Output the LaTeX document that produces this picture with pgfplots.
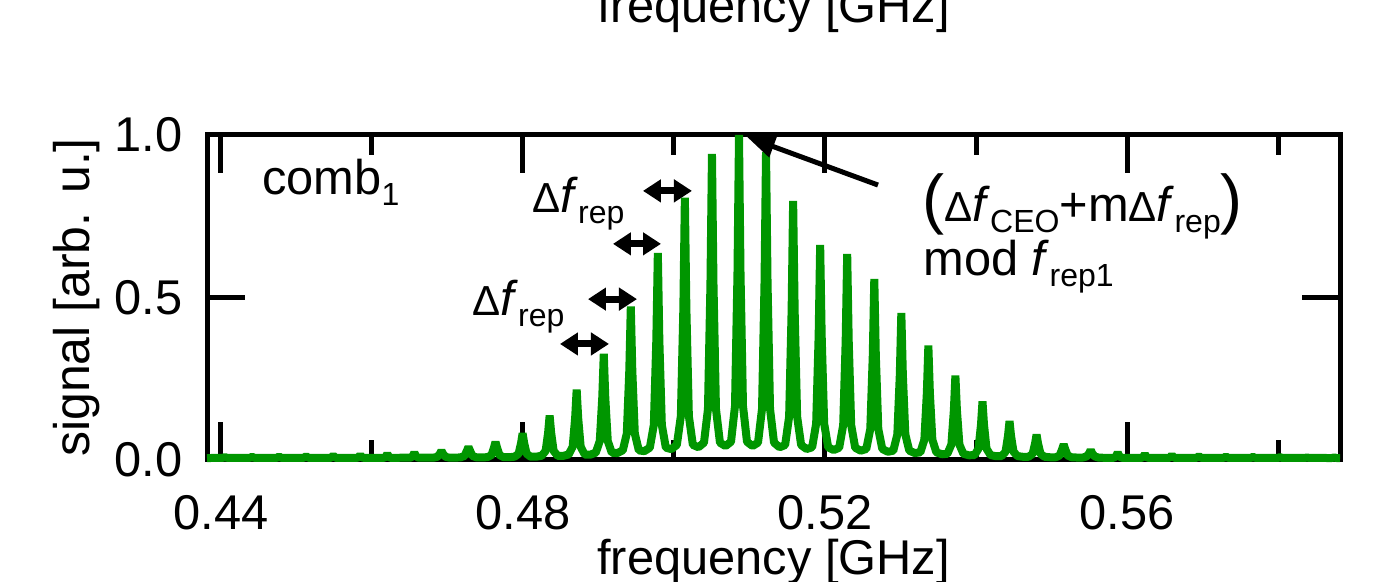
\documentclass[border=0pt]{standalone}
\usepackage{pgfplots}
\pgfplotsset{compat=1.18}
\usepackage{fontspec}
\setmainfont{Liberation Sans}
\usetikzlibrary{arrows.meta}
\definecolor{combgreen}{RGB}{0,150,0}

\newcommand{\sub}[1]{\raisebox{-5.5pt}{\fontsize{16}{16}\selectfont #1}}
\newcommand{\dlt}{{\fontsize{21}{21}\selectfont Δ}}
\newcommand{\fit}{\textit{f}}
\newcommand{\bigp}[1]{{\fontsize{33}{33}\selectfont #1}}

\begin{document}
\begin{tikzpicture}
\begin{axis}[
  at={(103.5pt,61pt)}, anchor=south west,
  width=566.5pt, height=162.5pt, scale only axis,
  xmin=0.43815, xmax=0.58821, ymin=0, ymax=1,
  axis line style={line width=2.5pt},
  xtick={0.44,0.48,0.52,0.56}, xticklabels={0.44,0.48,0.52,0.56},
  minor xtick={0.46,0.50,0.54,0.58},
  ytick={0,0.5,1}, yticklabels={0.0,0.5,1.0},
  tick align=inside,
  major tick length=19pt, minor tick length=10pt,
  every tick/.style={black, line width=2.5pt},
  tick label style={font=\fontsize{24.4}{24.4}\selectfont, inner sep=0pt},
  xticklabel style={yshift=-17.5pt},
  yticklabel style={xshift=-12pt},
  clip=false,
]
% comb spectrum: Lorentzian-like lines spaced by the repetition-rate difference
\addplot[combgreen, line width=4pt, line join=bevel] coordinates {
(0.43815,0.006)
(0.44023,0.0065)(0.44053,0.009)(0.44083,0.0065)
(0.44382,0.0065)(0.44412,0.010)(0.44442,0.0065)
(0.44740,0.0065)(0.44770,0.011)(0.44800,0.0065)
(0.45098,0.0065)(0.45128,0.012)(0.45158,0.0065)
(0.45457,0.0066)(0.45487,0.014)(0.45517,0.0066)
(0.45805,0.0067)(0.45825,0.009)(0.45845,0.016)(0.45865,0.009)(0.45885,0.0067)
(0.46163,0.0068)(0.46183,0.010)(0.46203,0.019)(0.46223,0.010)(0.46243,0.0068)
(0.46508,0.0070)(0.46541,0.012)(0.46561,0.023)(0.46581,0.012)(0.46614,0.0070)
(0.46814,0.0072)(0.46867,0.0098)(0.46900,0.0195)(0.46920,0.029)(0.46940,0.0195)(0.46973,0.0098)(0.47026,0.0072)(0.47099,0.0072)
(0.47172,0.0080)(0.47225,0.0124)(0.47258,0.0288)(0.47278,0.040)(0.47298,0.0288)(0.47331,0.0124)(0.47384,0.0080)(0.47457,0.0078)
(0.47530,0.0088)(0.47583,0.0150)(0.47616,0.0379)(0.47636,0.056)(0.47656,0.0379)(0.47689,0.0150)(0.47742,0.0088)(0.47815,0.0086)
(0.47889,0.0101)(0.47942,0.0191)(0.47975,0.0527)(0.47995,0.082)(0.48015,0.0527)(0.48048,0.0191)(0.48101,0.0101)(0.48174,0.0102)
(0.48247,0.0129)(0.48300,0.0279)(0.48333,0.0841)(0.48353,0.137)(0.48373,0.0841)(0.48406,0.0279)(0.48459,0.0129)(0.48532,0.0127)
(0.48605,0.0169)(0.48658,0.0407)(0.48691,0.1297)(0.48711,0.217)(0.48731,0.1297)(0.48764,0.0407)(0.48817,0.0169)(0.48890,0.0163)
(0.48964,0.0224)(0.49017,0.0583)(0.49050,0.1924)(0.49070,0.327)(0.49090,0.1924)(0.49123,0.0583)(0.49176,0.0224)(0.49249,0.0212)
(0.49322,0.0296)(0.49375,0.0815)(0.49408,0.2750)(0.49428,0.472)(0.49448,0.2750)(0.49481,0.0815)(0.49534,0.0296)(0.49607,0.0271)
(0.49680,0.0379)(0.49733,0.1079)(0.49766,0.3691)(0.49786,0.637)(0.49806,0.3691)(0.49839,0.1079)(0.49892,0.0379)(0.49965,0.0334)
(0.50038,0.0464)(0.50091,0.1351)(0.50124,0.4660)(0.50144,0.807)(0.50164,0.4660)(0.50197,0.1351)(0.50250,0.0464)(0.50323,0.0392)
(0.50397,0.0531)(0.50450,0.1567)(0.50483,0.5429)(0.50503,0.942)(0.50523,0.5429)(0.50556,0.1567)(0.50609,0.0531)(0.50682,0.0429)
(0.50755,0.0560)(0.50808,0.1660)(0.50841,0.5760)(0.50861,1.000)(0.50881,0.5760)(0.50914,0.1660)(0.50967,0.0560)(0.51040,0.0430)
(0.51113,0.0534)(0.51166,0.1575)(0.51199,0.5458)(0.51219,0.947)(0.51239,0.5458)(0.51272,0.1575)(0.51325,0.0534)(0.51398,0.0391)
(0.51472,0.0459)(0.51525,0.1335)(0.51558,0.4603)(0.51578,0.797)(0.51598,0.4603)(0.51631,0.1335)(0.51684,0.0459)(0.51757,0.0337)
(0.51830,0.0391)(0.51883,0.1119)(0.51916,0.3833)(0.51936,0.662)(0.51956,0.3833)(0.51989,0.1119)(0.52042,0.0391)(0.52115,0.0306)
(0.52188,0.0377)(0.52241,0.1074)(0.52274,0.3674)(0.52294,0.634)(0.52314,0.3674)(0.52347,0.1074)(0.52400,0.0377)(0.52473,0.0286)
(0.52547,0.0339)(0.52600,0.0951)(0.52633,0.3235)(0.52653,0.557)(0.52673,0.3235)(0.52706,0.0951)(0.52759,0.0339)(0.52832,0.0252)
(0.52905,0.0286)(0.52958,0.0783)(0.52991,0.2636)(0.53011,0.452)(0.53031,0.2636)(0.53064,0.0783)(0.53117,0.0286)(0.53190,0.0213)
(0.53263,0.0236)(0.53316,0.0623)(0.53349,0.2066)(0.53369,0.352)(0.53389,0.2066)(0.53422,0.0623)(0.53475,0.0236)(0.53548,0.0176)
(0.53621,0.0190)(0.53674,0.0476)(0.53707,0.1542)(0.53727,0.260)(0.53747,0.1542)(0.53780,0.0476)(0.53833,0.0190)(0.53906,0.0144)
(0.53980,0.0150)(0.54033,0.0348)(0.54066,0.1086)(0.54086,0.180)(0.54106,0.1086)(0.54139,0.0348)(0.54192,0.0150)(0.54265,0.0117)
(0.54338,0.0120)(0.54391,0.0252)(0.54424,0.0744)(0.54444,0.120)(0.54464,0.0744)(0.54497,0.0252)(0.54550,0.0120)(0.54623,0.0098)
(0.54696,0.0099)(0.54749,0.0185)(0.54782,0.0505)(0.54802,0.078)(0.54822,0.0505)(0.54855,0.0185)(0.54908,0.0099)(0.54981,0.0084)
(0.55055,0.0084)(0.55108,0.0137)(0.55141,0.0334)(0.55161,0.048)(0.55181,0.0334)(0.55214,0.0137)(0.55267,0.0084)(0.55340,0.0075)
(0.55413,0.0075)(0.55466,0.011)(0.55499,0.0207)(0.55519,0.031)(0.55539,0.0207)(0.55572,0.011)(0.55625,0.0072)(0.55698,0.0068)
(0.55824,0.0068)(0.55857,0.012)(0.55877,0.023)(0.55897,0.012)(0.55930,0.0068)
(0.56196,0.0067)(0.56216,0.010)(0.56236,0.018)(0.56256,0.010)(0.56276,0.0066)
(0.56564,0.0066)(0.56594,0.015)(0.56624,0.0065)
(0.56922,0.0065)(0.56952,0.012)(0.56982,0.0065)
(0.57280,0.0064)(0.57310,0.011)(0.57340,0.0064)
(0.57639,0.0063)(0.57669,0.010)(0.57699,0.0063)
(0.57997,0.0062)(0.58027,0.009)(0.58057,0.0062)
(0.58355,0.0062)(0.58385,0.008)(0.58415,0.0062)
(0.58714,0.0061)(0.58744,0.008)(0.58774,0.0061)
(0.58821,0.006)
};

% labels inside the frame
\node[anchor=base west, inner sep=0pt, font=\fontsize{24.4}{24.4}\selectfont]
  at (axis cs:0.44543,0.8154) {comb\sub{1}};
\node[anchor=base west, inner sep=0pt, font=\fontsize{24.4}{24.4}\selectfont]
  at (axis cs:0.48119,0.760) {\dlt\fit\sub{rep}};
\node[anchor=base west, inner sep=0pt, font=\fontsize{24.4}{24.4}\selectfont]
  at (axis cs:0.47325,0.446) {\dlt\fit\sub{rep}};
\node[anchor=base west, inner sep=0pt, font=\fontsize{24.4}{24.4}\selectfont]
  at (axis cs:0.53285,0.7323) {\bigp{(}\dlt\fit\sub{CEO}+m\dlt\fit\sub{rep}\bigp{)}};
\node[anchor=base west, inner sep=0pt, font=\fontsize{24.4}{24.4}\selectfont]
  at (axis cs:0.53298,0.569) {mod \fit\sub{rep1}};

% spacing arrows between neighbouring lines
\tikzset{dfrep/.style={line width=3.5pt, {Triangle[length=9pt,width=11pt]}-{Triangle[length=9pt,width=11pt]}}}
\draw[dfrep] (axis cs:0.49589,0.828) -- (axis cs:0.50238,0.828);
\draw[dfrep] (axis cs:0.49192,0.665) -- (axis cs:0.49828,0.665);
\draw[dfrep] (axis cs:0.48861,0.495) -- (axis cs:0.49510,0.495);
\draw[dfrep] (axis cs:0.48490,0.357) -- (axis cs:0.49139,0.357);

% pointer to the strongest line
\draw[line width=2.5pt, -{Triangle[length=14pt,width=11pt]}]
  (axis cs:0.52702,0.846) -- (axis cs:0.50967,0.994);
\end{axis}

% axis titles
\node[anchor=base, inner sep=0pt, font=\fontsize{24.4}{24.4}\selectfont]
  at (386.75pt,279.5pt) {frequency [GHz]};
\node[anchor=base, inner sep=0pt, font=\fontsize{24.4}{24.4}\selectfont]
  at (386.75pt,3.5pt) {frequency [GHz]};
\node[rotate=90, anchor=south, inner sep=0pt, font=\fontsize{25}{25}\selectfont]
  at (50pt,142.25pt) {signal [arb. u.]};

\pgfresetboundingbox
\useasboundingbox (0,0) rectangle (699.5pt,291pt);
\end{tikzpicture}
\end{document}
